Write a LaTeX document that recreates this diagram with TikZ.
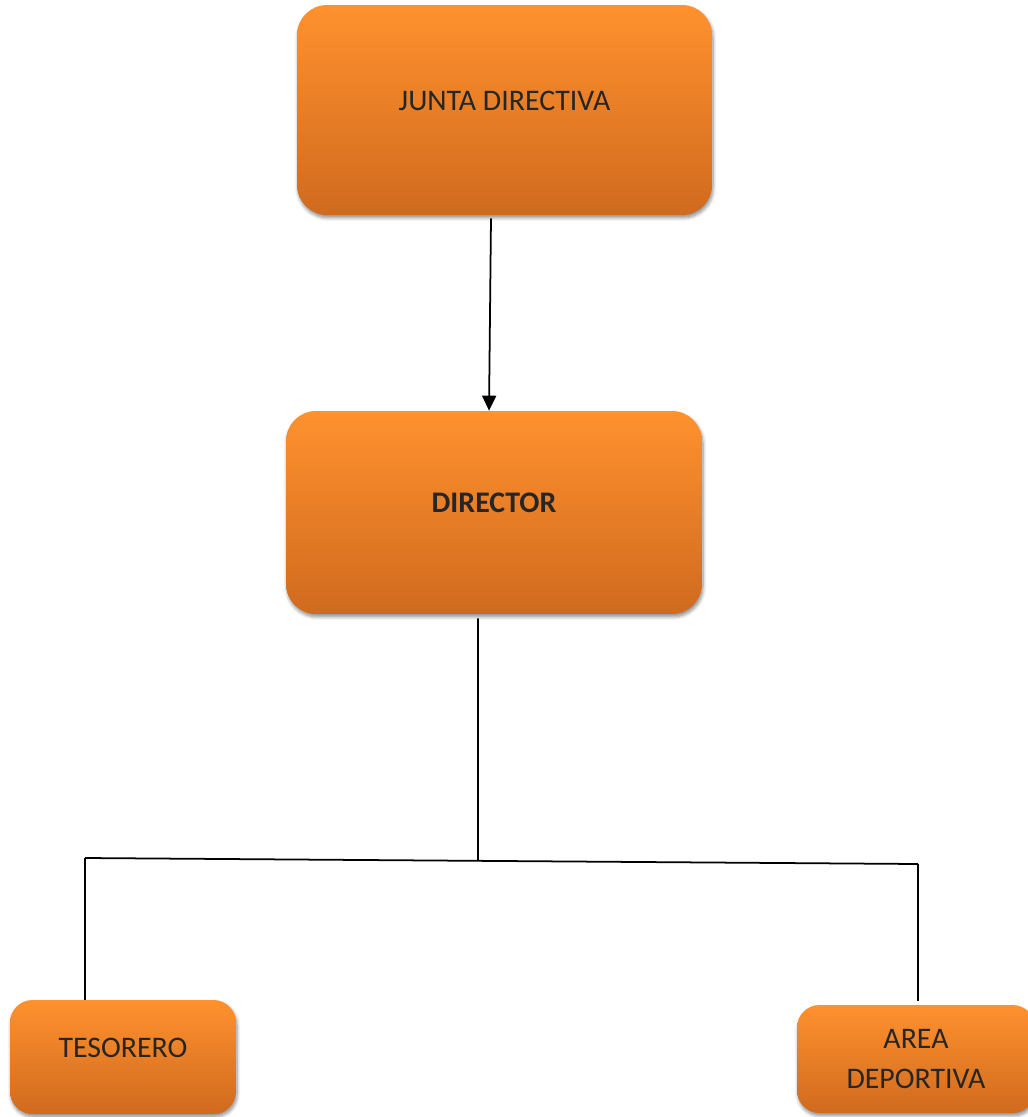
\documentclass[tikz,border=0pt]{standalone}
\usepackage{fontspec}
\setmainfont{Carlito}
\usetikzlibrary{arrows.meta,shadows.blur}
\definecolor{boxtop}{HTML}{FF912E}
\definecolor{boxbot}{HTML}{D06A1E}
\definecolor{boxtxt}{HTML}{262626}
\tikzset{
  orgbox/.style={rectangle,rounded corners=0.6cm,top color=boxtop,bottom color=boxbot,
    draw=none,text=boxtxt,align=center,font=\fontsize{17}{22.7}\selectfont,
    blur shadow={shadow xshift=0.6pt,shadow yshift=-1.6pt,shadow blur steps=6,shadow opacity=45}},
  raised/.style={text height=0.45cm,text depth=0.45cm},
  link/.style={line width=1pt,black}
}
\begin{document}
\begin{tikzpicture}[x=0.02cm,y=-0.02cm]
\useasboundingbox (0,0) rectangle (1028,1117);

\node[orgbox,raised,minimum width=8.3cm,minimum height=4.2cm] (junta) at (504.5,110) {JUNTA DIRECTIVA};
\node[orgbox,raised,minimum width=8.32cm,minimum height=4.06cm] (director) at (494,512.5) {\bfseries DIRECTOR};
\node[orgbox,raised,rounded corners=0.45cm,minimum width=4.52cm,minimum height=2.28cm] (tesorero) at (123,1057) {TESORERO};
\node[orgbox,rounded corners=0.45cm,minimum width=4.76cm,minimum height=2.16cm] (area) at (916,1059) {AREA\\DEPORTIVA};

\draw[link,-{Triangle[length=0.3cm,width=0.28cm]}] ([xshift=-0.27cm,yshift=-0.06cm]junta.south) -- ([xshift=-0.1cm]director.north);

\coordinate (hl) at (85,858);
\coordinate (hr) at (918,864);
\draw[link] ([xshift=-0.32cm,yshift=-0.08cm]director.south) -- (478,861);
\draw[link] (hl) -- (hr);
\draw[link] (hl) -- (hl |- tesorero.north);
\draw[link] (hr) -- ([yshift=0.08cm]hr |- area.north);

\end{tikzpicture}
\end{document}
